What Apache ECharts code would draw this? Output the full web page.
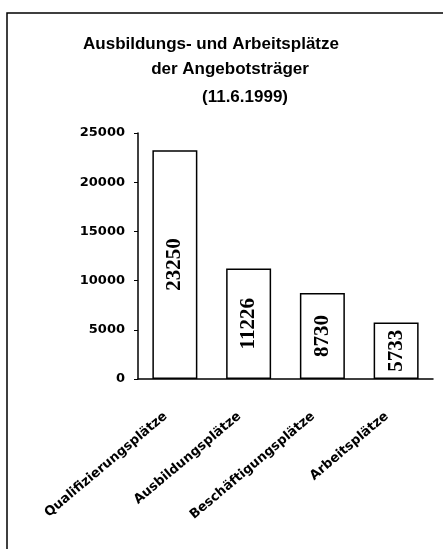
<!DOCTYPE html>
<html>
<head>
<meta charset="utf-8">
<script src="https://cdn.jsdelivr.net/npm/echarts@6/dist/echarts.min.js"></script>
<style>
  html, body { margin: 0; padding: 0; background: #fff; }
  #chart { width: 443px; height: 549px; }
</style>
</head>
<body>
<div id="chart"></div>
<script>
const categories = ['Qualifizierungsplätze', 'Ausbildungsplätze', 'Beschäftigungsplätze', 'Arbeitsplätze'];
const values = [23250, 11226, 8730, 5733];
const titleLines = ['Ausbildungs- und Arbeitsplätze', 'der Angebotsträger', '(11.6.1999)'];

const titleFont = { fontFamily: 'Liberation Sans', fontWeight: 'bold', fontSize: 17, color: '#000' };

const chart = echarts.init(document.getElementById('chart'));
chart.setOption({
  animation: false,
  title: [
    { text: titleLines[0], left: 206, top: 31, textAlign: 'center', textStyle: titleFont },
    { text: titleLines[1], left: 225, top: 56, textAlign: 'center', textStyle: titleFont },
    { text: titleLines[2], left: 240, top: 84, textAlign: 'center', textStyle: titleFont },
  ],
  graphic: [
    {
      type: 'rect',
      shape: { x: 7, y: 13, width: 460, height: 560 },
      style: { fill: 'none', stroke: '#000', lineWidth: 1.5 },
      silent: true,
    },
  ],
  grid: { left: 138, right: 10, top: 133, bottom: 170 },
  xAxis: {
    type: 'category',
    data: categories,
    axisLine: { lineStyle: { color: '#000', width: 1.5 } },
    axisTick: { length: 4, lineStyle: { color: '#000' } },
    axisLabel: {
      rotate: 40,
      margin: 28,
      padding: [0, 12, 0, 0],
      color: '#000',
      fontFamily: 'DejaVu Sans',
      fontWeight: 'bold',
      fontSize: 13,
    },
  },
  yAxis: {
    type: 'value',
    min: 0,
    max: 25000,
    interval: 5000,
    splitLine: { show: false },
    axisLine: { show: true, lineStyle: { color: '#000', width: 1.5 } },
    axisTick: { show: true, length: 4, lineStyle: { color: '#000' } },
    axisLabel: {
      margin: 13,
      color: '#000',
      fontFamily: 'DejaVu Sans',
      fontWeight: 'bold',
      fontSize: 13,
      formatter: (v) => String(v),
    },
  },
  series: [
    {
      type: 'bar',
      data: values,
      barWidth: '61%',
      itemStyle: { color: '#fff', borderColor: '#000', borderWidth: 1.5 },
      label: {
        show: true,
        position: 'inside',
        rotate: 90,
        color: '#000',
        fontFamily: 'Liberation Serif',
        fontWeight: 'bold',
        fontSize: 21,
      },
    },
  ],
});
</script>
</body>
</html>
